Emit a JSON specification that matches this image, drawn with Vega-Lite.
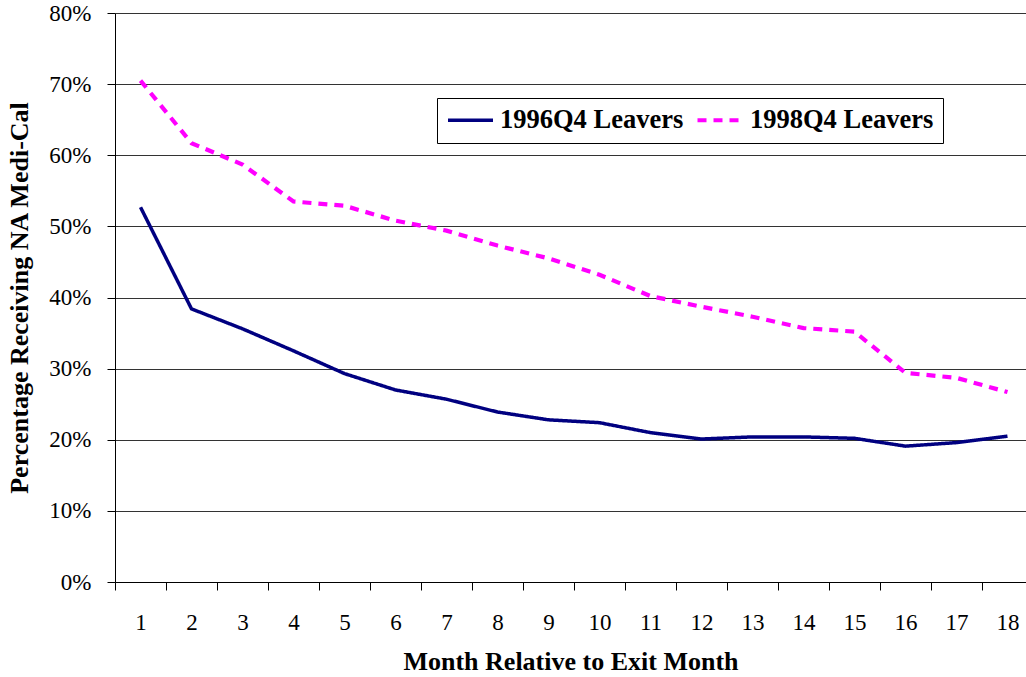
{
  "$schema": "https://vega.github.io/schema/vega-lite/v6.json",
  "width": 911,
  "height": 569,
  "autosize": {"type": "none"},
  "padding": {"left": 115, "top": 13, "right": 0, "bottom": 95},
  "background": "white",
  "config": {"font": "Liberation Serif", "view": {"stroke": null}},
  "data": {
    "values": [
      {"month": 1, "series": "1996Q4 Leavers", "pct": 0.527},
      {"month": 2, "series": "1996Q4 Leavers", "pct": 0.384},
      {"month": 3, "series": "1996Q4 Leavers", "pct": 0.356},
      {"month": 4, "series": "1996Q4 Leavers", "pct": 0.325},
      {"month": 5, "series": "1996Q4 Leavers", "pct": 0.293},
      {"month": 6, "series": "1996Q4 Leavers", "pct": 0.270},
      {"month": 7, "series": "1996Q4 Leavers", "pct": 0.257},
      {"month": 8, "series": "1996Q4 Leavers", "pct": 0.239},
      {"month": 9, "series": "1996Q4 Leavers", "pct": 0.228},
      {"month": 10, "series": "1996Q4 Leavers", "pct": 0.224},
      {"month": 11, "series": "1996Q4 Leavers", "pct": 0.210},
      {"month": 12, "series": "1996Q4 Leavers", "pct": 0.201},
      {"month": 13, "series": "1996Q4 Leavers", "pct": 0.204},
      {"month": 14, "series": "1996Q4 Leavers", "pct": 0.204},
      {"month": 15, "series": "1996Q4 Leavers", "pct": 0.202},
      {"month": 16, "series": "1996Q4 Leavers", "pct": 0.191},
      {"month": 17, "series": "1996Q4 Leavers", "pct": 0.196},
      {"month": 18, "series": "1996Q4 Leavers", "pct": 0.205},
      {"month": 1, "series": "1998Q4 Leavers", "pct": 0.705},
      {"month": 2, "series": "1998Q4 Leavers", "pct": 0.617},
      {"month": 3, "series": "1998Q4 Leavers", "pct": 0.587},
      {"month": 4, "series": "1998Q4 Leavers", "pct": 0.535},
      {"month": 5, "series": "1998Q4 Leavers", "pct": 0.529},
      {"month": 6, "series": "1998Q4 Leavers", "pct": 0.508},
      {"month": 7, "series": "1998Q4 Leavers", "pct": 0.494},
      {"month": 8, "series": "1998Q4 Leavers", "pct": 0.473},
      {"month": 9, "series": "1998Q4 Leavers", "pct": 0.455},
      {"month": 10, "series": "1998Q4 Leavers", "pct": 0.432},
      {"month": 11, "series": "1998Q4 Leavers", "pct": 0.402},
      {"month": 12, "series": "1998Q4 Leavers", "pct": 0.387},
      {"month": 13, "series": "1998Q4 Leavers", "pct": 0.373},
      {"month": 14, "series": "1998Q4 Leavers", "pct": 0.357},
      {"month": 15, "series": "1998Q4 Leavers", "pct": 0.352},
      {"month": 16, "series": "1998Q4 Leavers", "pct": 0.294},
      {"month": 17, "series": "1998Q4 Leavers", "pct": 0.287},
      {"month": 18, "series": "1998Q4 Leavers", "pct": 0.267}
    ]
  },
  "mark": {"type": "line", "clip": true},
  "encoding": {
    "x": {
      "field": "month",
      "type": "quantitative",
      "scale": {"domain": [0.5, 18.363], "nice": false, "zero": false},
      "axis": {
        "values": [0.5, 1.5, 2.5, 3.5, 4.5, 5.5, 6.5, 7.5, 8.5, 9.5, 10.5, 11.5, 12.5, 13.5, 14.5, 15.5, 16.5, 17.5],
        "labelExpr": "'' + (datum.value + 0.5)",
        "labelOffset": 25.5,
        "labelFlush": false,
        "labelOverlap": false,
        "labelBound": false,
        "grid": false,
        "domainColor": "black",
        "domainWidth": 1,
        "tickColor": "black",
        "tickSize": 8,
        "labelPadding": 21,
        "labelFontSize": 23,
        "labelColor": "black",
        "title": "Month Relative to Exit Month",
        "titleFontSize": 26,
        "titleFontWeight": "bold",
        "titleColor": "black",
        "titlePadding": 14
      }
    },
    "y": {
      "field": "pct",
      "type": "quantitative",
      "scale": {"domain": [0, 0.8], "nice": false, "zero": true},
      "axis": {
        "values": [0, 0.1, 0.2, 0.3, 0.4, 0.5, 0.6, 0.7, 0.8],
        "format": ".0%",
        "grid": true,
        "gridColor": "#333333",
        "gridWidth": 1,
        "domainColor": "black",
        "domainWidth": 1,
        "tickColor": "black",
        "tickSize": 8,
        "labelPadding": 16,
        "labelFontSize": 23,
        "labelColor": "black",
        "title": "Percentage Receiving NA Medi-Cal",
        "titleFontSize": 26,
        "titleFontWeight": "bold",
        "titleColor": "black",
        "titlePadding": 16
      }
    },
    "strokeWidth": {
      "field": "series",
      "type": "nominal",
      "scale": {"domain": ["1996Q4 Leavers", "1998Q4 Leavers"], "range": [3.5, 4.2]},
      "legend": null
    },
    "color": {
      "field": "series",
      "type": "nominal",
      "scale": {"domain": ["1996Q4 Leavers", "1998Q4 Leavers"], "range": ["#000080", "#FF00FF"]},
      "legend": {
        "orient": "none",
        "legendX": 322,
        "legendY": 85,
        "direction": "horizontal",
        "title": null,
        "labelFontSize": 26.5,
        "labelFontWeight": "bold",
        "labelColor": "black",
        "labelOffset": 5,
        "labelLimit": 400,
        "symbolType": "stroke",
        "symbolSize": 2025,
        "symbolStrokeWidth": 3.8,
        "clipHeight": 26,
        "strokeColor": "black",
        "fillColor": "white",
        "padding": 9,
        "columnPadding": 11
      }
    },
    "strokeDash": {
      "field": "series",
      "type": "nominal",
      "scale": {"domain": ["1996Q4 Leavers", "1998Q4 Leavers"], "range": [[1, 0], [9, 7]]},
      "legend": {
        "orient": "none",
        "legendX": 322,
        "legendY": 85,
        "direction": "horizontal",
        "title": null,
        "labelFontSize": 26.5,
        "labelFontWeight": "bold",
        "labelColor": "black",
        "labelOffset": 5,
        "labelLimit": 400,
        "symbolType": "stroke",
        "symbolSize": 2025,
        "symbolStrokeWidth": 3.8,
        "clipHeight": 26,
        "strokeColor": "black",
        "fillColor": "white",
        "padding": 9,
        "columnPadding": 11
      }
    }
  }
}
